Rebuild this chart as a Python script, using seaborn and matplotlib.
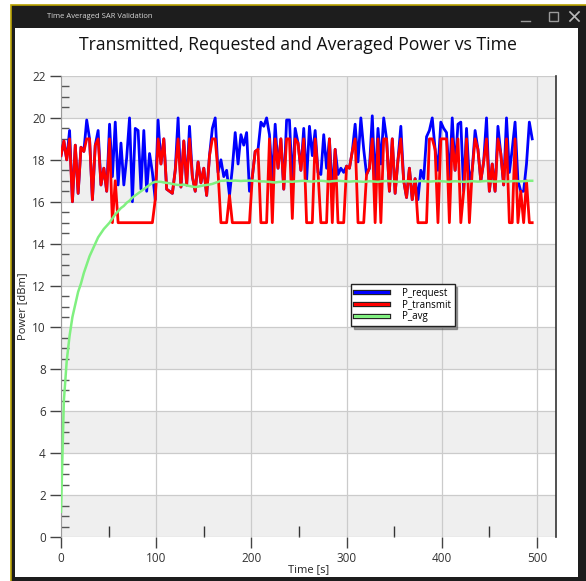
import numpy as np
import pandas as pd
import matplotlib
matplotlib.use("Agg")
import matplotlib.pyplot as plt
import seaborn as sns
from matplotlib.patches import Rectangle
from matplotlib.lines import Line2D
import matplotlib.patheffects as pe
from matplotlib.ticker import MultipleLocator

# ---------------- data ----------------
time_s = np.arange(0, 498, 3)

p_request = [
    18.2, 18.9, 18.0, 19.4, 16.0, 18.7, 16.4, 18.6, 18.4, 19.9, 19.0, 16.1, 18.7, 19.4, 16.8, 17.6, 16.5,
    19.7, 17.2, 19.8, 16.8, 18.8, 16.8, 18.1, 20.0, 16.0, 19.5, 19.4, 16.6, 19.4, 16.5, 18.3, 17.4, 16.1,
    19.9, 17.8, 19.0, 16.6, 16.5, 16.4, 17.5, 20.0, 16.7, 18.9, 16.8, 19.6, 17.2, 16.5, 17.9, 16.9, 17.6,
    16.3, 18.2, 19.5, 20.0, 17.4, 18.0, 17.2, 17.5, 16.3, 17.6, 19.3, 17.8, 19.2, 18.7, 19.3, 16.5, 17.2,
    18.4, 18.5, 19.8, 19.6, 20.0, 19.2, 17.0, 19.7, 17.6, 19.0, 16.6, 19.9, 19.9, 16.8, 19.5, 18.8, 17.5,
    19.5, 17.0, 19.6, 18.2, 19.4, 17.4, 17.3, 19.2, 17.6, 19.0, 16.4, 18.5, 17.3, 17.6, 17.4, 17.7,
    17.6, 18.4, 19.7, 17.9, 20.0, 18.5, 17.3, 17.6, 20.1, 16.8, 19.5, 17.8, 20.0, 19.0, 16.5, 19.0, 16.4,
    18.0, 19.6, 17.0, 16.2, 17.6, 16.1, 17.1, 16.1, 17.5, 17.1, 19.1, 19.4, 20.0, 18.5, 17.5, 19.8, 19.5,
    19.3, 17.0, 20.0, 17.5, 19.7, 19.8, 16.5, 19.5, 17.0, 17.5, 19.4, 18.5, 17.0, 17.9, 20.0, 16.5,
    17.8, 16.5, 19.6, 18.3, 16.8, 20.0, 17.4, 18.5, 19.8, 17.0, 16.5, 16.5, 17.8, 19.8, 19.0,
]

p_transmit = [
    18.2, 18.9, 18.0, 19.0, 16.0, 18.7, 16.4, 18.6, 18.4, 19.0, 19.0, 16.1, 18.7, 19.0, 16.8, 17.6, 16.5,
    19.0, 15.0, 17.0, 15.0, 15.0, 15.0, 15.0, 15.0, 15.0, 15.0, 15.0, 15.0, 15.0, 15.0, 15.0, 15.0, 16.1,
    19.0, 17.8, 19.0, 16.6, 16.5, 16.4, 17.5, 19.0, 16.7, 18.9, 16.8, 19.0, 17.2, 16.5, 17.9, 16.9, 17.6,
    16.3, 18.2, 19.0, 19.0, 17.4, 15.0, 15.0, 15.0, 16.3, 15.0, 15.0, 15.0, 15.0, 15.0, 15.0, 15.0, 17.2,
    18.4, 18.5, 15.0, 15.0, 15.0, 19.0, 15.0, 19.0, 17.6, 19.0, 16.6, 19.0, 19.0, 15.2, 19.0, 18.8, 17.5,
    19.0, 15.0, 15.0, 15.0, 19.0, 17.4, 15.0, 15.0, 15.0, 19.0, 15.0, 18.5, 15.0, 15.0, 15.0, 17.7,
    17.6, 18.4, 19.0, 15.0, 15.0, 15.0, 17.3, 17.6, 19.0, 15.0, 19.0, 15.0, 19.0, 19.0, 16.5, 19.0, 16.4,
    18.0, 19.0, 17.0, 16.2, 17.6, 16.1, 17.1, 15.0, 15.0, 15.0, 15.0, 19.0, 19.0, 18.5, 15.0, 19.0, 19.0,
    19.0, 15.0, 19.0, 17.5, 19.0, 15.0, 16.5, 19.0, 15.0, 17.5, 19.0, 18.5, 17.0, 17.9, 19.0, 16.5,
    17.8, 16.5, 19.0, 18.3, 16.8, 19.0, 15.0, 15.0, 19.0, 15.0, 16.5, 15.0, 17.0, 15.0, 15.0,
]

p_avg = [
    1.2, 6.5, 8.4, 9.6, 10.5, 11.1, 11.7, 12.1, 12.6, 13.0, 13.4, 13.7, 14.0, 14.3, 14.5, 14.7, 14.85,
    15.0, 15.2, 15.4, 15.55, 15.7, 15.8, 15.95, 16.05, 16.2, 16.3, 16.4, 16.5, 16.6, 16.7, 16.8, 16.9, 16.95,
    16.95, 16.95, 16.92, 16.9, 16.88, 16.85, 16.82, 16.8, 16.8, 16.82, 16.78, 16.75, 16.72, 16.7, 16.72,
    16.75, 16.78, 16.8, 16.82, 16.85, 16.9, 16.95, 17.0, 17.0, 17.02, 17.0, 17.0, 17.01, 17.0, 16.99,
    17.0, 17.0, 17.01, 17.0,
    17.0, 16.98, 16.97, 16.97, 16.96, 16.95, 16.93, 16.92, 16.94, 16.95, 16.96, 16.97, 16.96, 16.95,
    16.97, 16.98, 16.99, 17.0, 16.98, 16.97, 16.96, 16.98, 16.99, 17.0, 16.99, 16.97, 16.96, 16.98,
    16.99, 17.0, 16.99, 16.98, 16.97,
    16.96, 16.97, 16.98, 16.97, 16.96, 16.95, 16.96, 16.98, 16.97, 16.96, 16.95, 16.97, 16.98, 16.99,
    16.98, 16.97, 16.96, 16.95, 16.96, 16.97, 16.98, 16.97, 16.96, 16.97, 16.98, 16.99, 16.98, 16.97,
    16.96, 16.97, 16.98, 16.99, 16.98, 16.97,
    16.96, 16.95, 16.97, 16.98, 16.97, 16.96, 16.95, 16.96, 16.97, 16.98, 16.97, 16.96, 16.97, 16.98,
    16.99, 16.98, 16.97, 16.96, 16.97, 16.98, 16.97, 16.96, 16.97, 16.98, 16.99, 16.98, 16.97, 16.98,
    16.99, 17.0, 17.0,
]

series_labels = ["P_request", "P_transmit", "P_avg"]
y_ticks = list(range(0, 23, 2))
x_ticks = [0, 100, 200, 300, 400, 500]

df = pd.DataFrame({"t": time_s, "P_request": p_request,
                   "P_transmit": p_transmit, "P_avg": p_avg})

# ---------------- figure ----------------
plt.rcParams["font.family"] = ["Open Sans", "DejaVu Sans"]
W, H = 586, 581
fig = plt.figure(figsize=(W / 100, H / 100), dpi=100)
fig.patch.set_facecolor("white")

# window chrome (background axes in pixel coordinates)
bg = fig.add_axes([0, 0, 1, 1], zorder=-5)
bg.set_xlim(0, W)
bg.set_ylim(H, 0)
bg.axis("off")
bg.add_patch(Rectangle((11, 5), 590, 590, facecolor="#1d1d1d", edgecolor="#b8a200", lw=1.2))
bg.add_patch(Rectangle((15, 28), 563, 549, facecolor="white", edgecolor="none"))
bg.text(47, 17, "Time Averaged SAR Validation", color="#d8d8d8", fontsize=5.5, va="center")
bg.plot([521, 530], [21, 21], color="#9a9a9a", lw=1)
bg.add_patch(Rectangle((549, 12), 9, 9, fill=False, edgecolor="#9a9a9a", lw=1))
bg.plot([570, 579], [12, 21], color="#bbbbbb", lw=1.2)
bg.plot([570, 579], [21, 12], color="#bbbbbb", lw=1.2)
bg.text(298, 45, "Transmitted, Requested and Averaged Power vs Time", fontsize=12.7,
        color="#111111", ha="center", va="center")

# main axes
x0, x1, yt, yb = 61, 556, 76, 537
ax = fig.add_axes([x0 / W, (H - yb) / H, (x1 - x0) / W, (yb - yt) / H], zorder=1)
ax.set_facecolor("white")

for y0 in range(0, 22, 4):
    ax.axhspan(y0, y0 + 2, color="#efefef", zorder=0, lw=0)

sns.lineplot(data=df, x="t", y="P_request", ax=ax, color="#0000ff", lw=2.0, zorder=3, legend=False)
sns.lineplot(data=df, x="t", y="P_transmit", ax=ax, color="#ff0000", lw=2.0, zorder=4, legend=False)
sns.lineplot(data=df, x="t", y="P_avg", ax=ax, color="#80f080", lw=1.8, zorder=5, legend=False)

ax.set_xlim(0, 520)
ax.set_ylim(0, 22)
ax.set_xticks(x_ticks)
ax.set_yticks(y_ticks)
ax.xaxis.set_minor_locator(MultipleLocator(50))
ax.yaxis.set_minor_locator(MultipleLocator(0.5))

ax.grid(True, which="major", color="#cbcbcb", lw=0.9, zorder=1)
ax.set_axisbelow(True)

for s in ["top", "bottom"]:
    ax.spines[s].set_visible(False)
ax.spines["left"].set_color("#9a9a9a")
ax.spines["right"].set_color("#333333")
ax.spines["right"].set_linewidth(1.2)

ax.tick_params(axis="both", which="major", direction="out", length=8, width=1,
               color="#444444", labelsize=8.5, labelcolor="#333333", pad=3)
ax.tick_params(axis="y", which="minor", direction="in", length=6, width=1, color="#555555")
ax.tick_params(axis="x", which="minor", direction="in", length=8, width=1, color="#333333")

ax.set_xlabel("Time [s]", fontsize=8, color="#222222")
ax.set_ylabel("Power [dBm]", fontsize=8, color="#222222")
ax.xaxis.set_label_coords(0.5, -0.058)
ax.yaxis.set_label_coords(-0.066, 0.5)

# legend with outlined handles
colors = ["#0000ff", "#ff0000", "#80f080"]
handles = [Line2D([], [], color=c, lw=2.2,
                  path_effects=[pe.Stroke(linewidth=3.8, foreground="#222222"), pe.Normal()])
           for c in colors]
leg = ax.legend(handles, series_labels, loc="center", bbox_to_anchor=(403 / W, 1 - 305 / H),
                bbox_transform=fig.transFigure, fontsize=7, frameon=True, fancybox=False,
                shadow=True, edgecolor="#222222", handlelength=3.4, handletextpad=1.5,
                labelspacing=0.1, borderpad=0.35, borderaxespad=0)
leg.get_frame().set_linewidth(1.0)
leg.set_zorder(10)

fig.savefig("out.png", dpi=100)
